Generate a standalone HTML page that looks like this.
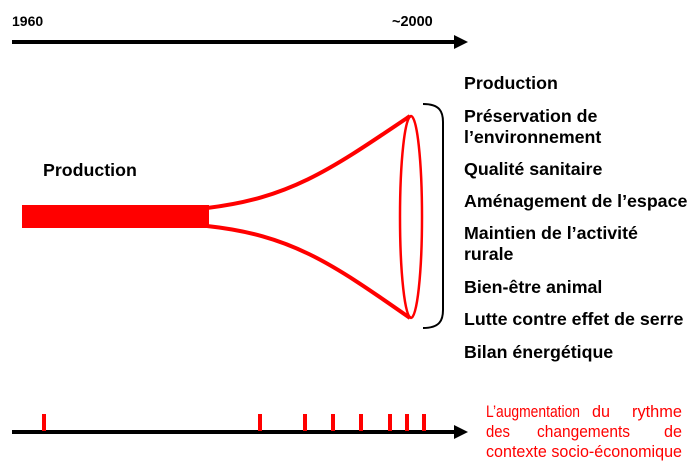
<!DOCTYPE html>
<html><head><meta charset="utf-8"><style>
body{margin:0;width:693px;height:467px;background:#fff;overflow:hidden;font-family:"Liberation Sans",sans-serif}
svg{position:absolute;left:0;top:0}
.t{font-weight:bold;font-size:17.8px;fill:#000}
.r{font-size:16.5px;fill:#f00}
</style></head><body>
<svg width="693" height="467">
<text x="12" y="26" class="t" style="font-size:14px">1960</text>
<text x="392" y="26" class="t" style="font-size:14.5px">~2000</text>
<line x1="12" y1="42" x2="456" y2="42" stroke="#000" stroke-width="4"/>
<polygon points="454,35 468,42 454,49" fill="#000"/>
<text x="43" y="176" class="t">Production</text>
<rect x="22" y="205" width="187" height="23" fill="#f00"/>
<path d="M207,208 C290,198 330,170 410,116" fill="none" stroke="#f00" stroke-width="4"/>
<path d="M207,226 C290,235 330,262 410,318" fill="none" stroke="#f00" stroke-width="4"/>
<ellipse cx="411" cy="217" rx="11" ry="101" fill="none" stroke="#f00" stroke-width="2.5"/>
<path d="M423,104 C440,104 443,112 443,122 L443,310 C443,320 440,328 423,328" fill="none" stroke="#000" stroke-width="2"/>
<g>
<text x="464" y="89" class="t">Production</text>
<text x="464" y="122" class="t">Préservation de</text>
<text x="464" y="143" class="t">l’environnement</text>
<text x="464" y="175" class="t">Qualité sanitaire</text>
<text x="464" y="207" class="t">Aménagement de l’espace</text>
<text x="464" y="239" class="t">Maintien de l’activité</text>
<text x="464" y="260" class="t">rurale</text>
<text x="464" y="293" class="t">Bien-être animal</text>
<text x="464" y="325" class="t">Lutte contre effet de serre</text>
<text x="464" y="358" class="t">Bilan énergétique</text>
</g>
<line x1="12" y1="432" x2="456" y2="432" stroke="#000" stroke-width="4"/>
<polygon points="454,425 468,432 454,439" fill="#000"/>
<g id="ticks"></g>
<g>
<text x="486" y="417" class="r" textLength="94" lengthAdjust="spacingAndGlyphs">L’augmentation</text>
<text x="592" y="417" class="r" textLength="18" lengthAdjust="spacingAndGlyphs">du</text>
<text x="632" y="417" class="r" textLength="50" lengthAdjust="spacingAndGlyphs">rythme</text>
<text x="486" y="437" class="r" textLength="24" lengthAdjust="spacingAndGlyphs">des</text>
<text x="537" y="437" class="r" textLength="93" lengthAdjust="spacingAndGlyphs">changements</text>
<text x="664" y="437" class="r" textLength="18" lengthAdjust="spacingAndGlyphs">de</text>
<text x="486" y="457" class="r" textLength="196" lengthAdjust="spacingAndGlyphs">contexte socio-économique</text>
</g>
</svg>
<script>
const tickPositions = [44, 260, 305, 333, 361, 390, 407, 424];
const g = document.getElementById('ticks');
tickPositions.forEach(function(x){
  const r = document.createElementNS('http://www.w3.org/2000/svg','rect');
  r.setAttribute('x', x-2); r.setAttribute('y', 414); r.setAttribute('width', 4); r.setAttribute('height', 17);
  r.setAttribute('fill', '#f00');
  
  
  g.appendChild(r);
});
</script>
</body></html>
